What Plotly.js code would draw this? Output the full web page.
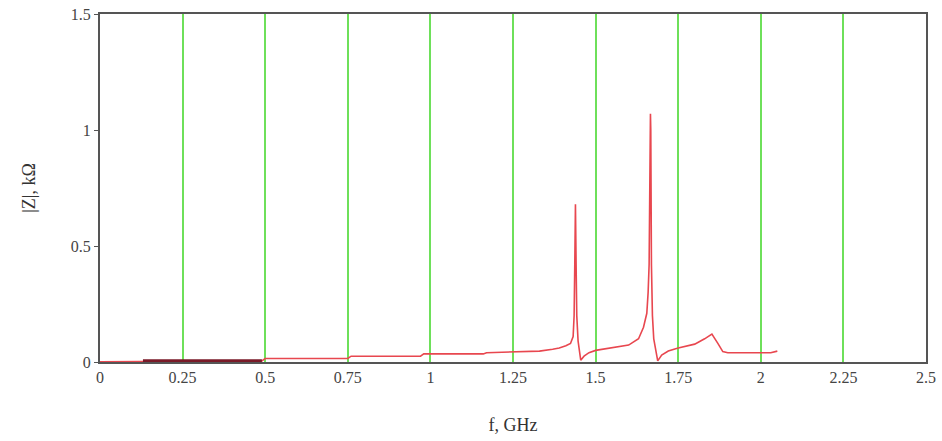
<!DOCTYPE html>
<html>
<head>
<meta charset="utf-8">
<script src="https://cdn.plot.ly/plotly-3.0.1.min.js"></script>
<style>html,body{margin:0;padding:0;background:#fff;}#chart{width:942px;height:441px;}</style>
</head>
<body>
<div id="chart"></div>
<script>
// Frequency (GHz) and impedance magnitude (kOhm)
var freq = [0, 0.13, 0.13, 0.49, 0.5, 0.75, 0.76, 0.97, 0.98, 1.16, 1.17, 1.29, 1.33, 1.37, 1.39, 1.41, 1.424, 1.432, 1.435, 1.437, 1.439, 1.441, 1.443, 1.447, 1.455, 1.465, 1.48, 1.5, 1.55, 1.6, 1.63, 1.645, 1.655, 1.659, 1.662, 1.665, 1.666, 1.667, 1.669, 1.672, 1.676, 1.688, 1.7, 1.72, 1.75, 1.8, 1.83, 1.852, 1.87, 1.885, 1.9, 1.95, 2.0, 2.03, 2.05];
var zMag = [0.001, 0.002, 0.005, 0.005, 0.015, 0.015, 0.025, 0.025, 0.035, 0.035, 0.04, 0.043, 0.047, 0.055, 0.06, 0.07, 0.08, 0.11, 0.2, 0.42, 0.68, 0.42, 0.2, 0.09, 0.008, 0.025, 0.04, 0.05, 0.06, 0.073, 0.1, 0.15, 0.21, 0.3, 0.42, 1.0, 1.07, 1.0, 0.42, 0.2, 0.1, 0.005, 0.03, 0.047, 0.06, 0.077, 0.1, 0.12, 0.08, 0.045, 0.04, 0.04, 0.04, 0.04, 0.047];
// darker overlaid segment at low frequency
var freqDark = [0.13, 0.49];
var zDark = [0.005, 0.005];

var xTicks = [0, 0.25, 0.5, 0.75, 1, 1.25, 1.5, 1.75, 2, 2.25, 2.5];
var xTickText = ["0", "0.25", "0.5", "0.75", "1", "1.25", "1.5", "1.75", "2", "2.25", "2.5"];
var yTicks = [0, 0.5, 1, 1.5];
var yTickText = ["0", "0.5", "1", "1.5"];

var traces = [
  {x: freq, y: zMag, type: 'scatter', mode: 'lines', line: {color: '#e8474f', width: 1.6}, hoverinfo: 'x+y'},
  {x: freqDark, y: zDark, type: 'scatter', mode: 'lines', line: {color: '#7a1a28', width: 3}, hoverinfo: 'x+y'}
];

var fontFam = '"Liberation Serif", "DejaVu Serif", serif';
var layout = {
  width: 942, height: 441,
  margin: {l: 100, r: 16, t: 14, b: 79},
  paper_bgcolor: '#fff', plot_bgcolor: '#fff',
  showlegend: false,
  font: {family: fontFam, color: '#444', size: 16},
  xaxis: {
    range: [0, 2.5], tickmode: 'array', tickvals: xTicks, ticktext: xTickText,
    showgrid: true, gridcolor: '#6ee05a', gridwidth: 2,
    zeroline: false, showline: true, mirror: true, linecolor: '#555', linewidth: 2,
    ticks: '', ticklen: 0,
    tickfont: {family: fontFam, size: 16, color: '#444'},
    title: {text: 'f, GHz', font: {family: fontFam, size: 18, color: '#333'}, standoff: 33}
  },
  yaxis: {
    range: [0, 1.5], tickmode: 'array', tickvals: yTicks, ticktext: yTickText,
    showgrid: false, zeroline: false, showline: true, mirror: true, linecolor: '#555', linewidth: 2,
    ticks: 'outside', ticklen: 4, tickcolor: '#555', tickwidth: 1,
    tickfont: {family: fontFam, size: 16, color: '#444'},
    title: {text: '|Z|, kΩ', font: {family: fontFam, size: 18, color: '#333'}, standoff: 30}
  }
};

Plotly.newPlot('chart', traces, layout, {displayModeBar: false, staticPlot: true});
</script>
</body>
</html>
